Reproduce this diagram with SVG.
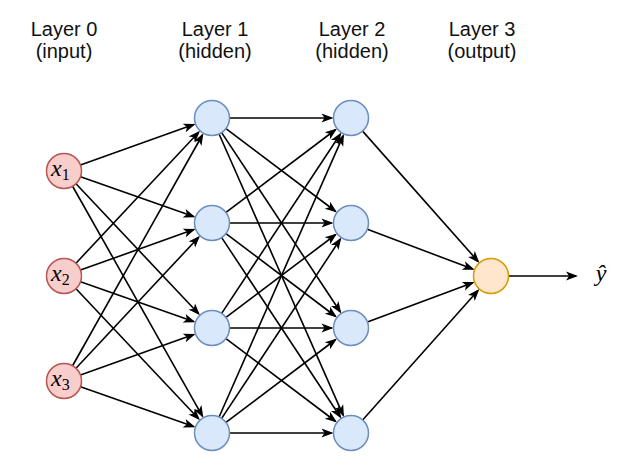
<svg xmlns="http://www.w3.org/2000/svg" width="626" height="464" viewBox="0 0 626 464">
<defs>
<marker id="arr" markerUnits="userSpaceOnUse" markerWidth="12" markerHeight="9" refX="10" refY="4.5" orient="auto" overflow="visible">
<path d="M0,0 L12,4.5 L0,9 L3,4.5 z" fill="#000"/>
</marker>
<style>
.title{font-family:"Liberation Sans",Arial,sans-serif;font-size:20px;fill:#111;text-anchor:middle}
.e{stroke:#000;stroke-width:1.6;fill:none;marker-end:url(#arr)}
.in{fill:#f8cecc;stroke:#b85450;stroke-width:1.5}
.hid{fill:#dae8fc;stroke:#6c8ebf;stroke-width:1.5}
.out{fill:#ffe6cc;stroke:#d79b00;stroke-width:1.5}
.math{font-family:"Liberation Serif","Times New Roman",serif;font-style:italic;font-size:24px;fill:#000}
.sub{font-style:normal;font-size:16px}
</style>
</defs>
<rect width="626" height="464" fill="#fff"/>
<g id="titles">
<text class="title" x="64" y="36">Layer 0</text><text class="title" x="64" y="58">(input)</text>
<text class="title" x="215" y="36">Layer 1</text><text class="title" x="215" y="58">(hidden)</text>
<text class="title" x="352" y="36">Layer 2</text><text class="title" x="352" y="58">(hidden)</text>
<text class="title" x="482" y="36">Layer 3</text><text class="title" x="482" y="58">(output)</text>
</g>
<g id="connectors">
<line class="e" x1="80.48" y1="165.10" x2="193.64" y2="124.57"/>
<line class="e" x1="80.51" y1="176.80" x2="193.60" y2="216.54"/>
<line class="e" x1="76.00" y1="183.73" x2="198.62" y2="313.81"/>
<line class="e" x1="72.61" y1="186.24" x2="202.41" y2="416.02"/>
<line class="e" x1="75.96" y1="263.23" x2="198.67" y2="132.23"/>
<line class="e" x1="80.48" y1="270.10" x2="193.64" y2="229.57"/>
<line class="e" x1="80.51" y1="281.80" x2="193.60" y2="321.54"/>
<line class="e" x1="76.00" y1="288.73" x2="198.62" y2="418.81"/>
<line class="e" x1="72.58" y1="365.75" x2="202.44" y2="134.99"/>
<line class="e" x1="75.96" y1="368.23" x2="198.67" y2="237.23"/>
<line class="e" x1="80.48" y1="375.10" x2="193.64" y2="334.57"/>
<line class="e" x1="80.51" y1="386.80" x2="193.60" y2="426.54"/>
<line class="e" x1="229.5" y1="118" x2="331.5" y2="118"/>
<line class="e" x1="225.96" y1="128.55" x2="335.44" y2="211.25"/>
<line class="e" x1="221.66" y1="132.59" x2="340.24" y2="311.74"/>
<line class="e" x1="219.07" y1="134.01" x2="343.13" y2="415.16"/>
<line class="e" x1="225.96" y1="212.45" x2="335.44" y2="129.75"/>
<line class="e" x1="229.5" y1="223" x2="331.5" y2="223"/>
<line class="e" x1="225.96" y1="233.55" x2="335.44" y2="316.25"/>
<line class="e" x1="221.66" y1="237.59" x2="340.24" y2="416.74"/>
<line class="e" x1="221.66" y1="313.41" x2="340.24" y2="134.26"/>
<line class="e" x1="225.96" y1="317.45" x2="335.44" y2="234.75"/>
<line class="e" x1="229.5" y1="328" x2="331.5" y2="328"/>
<line class="e" x1="225.96" y1="338.55" x2="335.44" y2="421.25"/>
<line class="e" x1="219.07" y1="416.99" x2="343.13" y2="135.84"/>
<line class="e" x1="221.66" y1="418.41" x2="340.24" y2="239.26"/>
<line class="e" x1="225.96" y1="422.45" x2="335.44" y2="339.75"/>
<line class="e" x1="229.5" y1="433" x2="331.5" y2="433"/>
<line class="e" x1="362.61" y1="131.10" x2="478.07" y2="261.40"/>
<line class="e" x1="367.37" y1="229.20" x2="472.76" y2="269.10"/>
<line class="e" x1="367.40" y1="321.91" x2="472.72" y2="282.79"/>
<line class="e" x1="362.65" y1="419.94" x2="478.02" y2="290.56"/>
<line class="e" x1="508.5" y1="276" x2="576" y2="276"/>
</g>
<g id="x1"><circle class="in" cx="64" cy="171" r="17.5"/><text class="math" x="51" y="176">x<tspan class="sub" dy="4">1</tspan></text></g>
<g id="x2"><circle class="in" cx="64" cy="276" r="17.5"/><text class="math" x="51" y="281">x<tspan class="sub" dy="4">2</tspan></text></g>
<g id="x3"><circle class="in" cx="64" cy="381" r="17.5"/><text class="math" x="51" y="386">x<tspan class="sub" dy="4">3</tspan></text></g>
<g id="h1_1"><circle class="hid" cx="212" cy="118" r="17.5"/></g>
<g id="h1_2"><circle class="hid" cx="212" cy="223" r="17.5"/></g>
<g id="h1_3"><circle class="hid" cx="212" cy="328" r="17.5"/></g>
<g id="h1_4"><circle class="hid" cx="212" cy="433" r="17.5"/></g>
<g id="h2_1"><circle class="hid" cx="351" cy="118" r="17.5"/></g>
<g id="h2_2"><circle class="hid" cx="351" cy="223" r="17.5"/></g>
<g id="h2_3"><circle class="hid" cx="351" cy="328" r="17.5"/></g>
<g id="h2_4"><circle class="hid" cx="351" cy="433" r="17.5"/></g>
<g id="out"><circle class="out" cx="491" cy="276" r="17.5"/></g>
<g id="yhat"><text class="math" x="601" y="281" text-anchor="middle">ŷ</text></g>
</svg>
